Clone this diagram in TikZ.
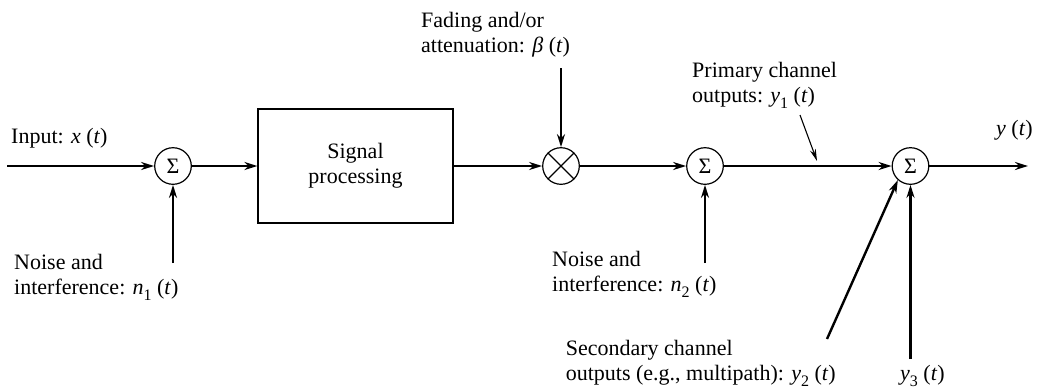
\documentclass[tikz,border=0pt]{standalone}
\usepackage{fontspec}
\setmainfont{Liberation Serif}
\usetikzlibrary{arrows.meta}
% lowered subscript digit for signal names
\newcommand{\lsub}[1]{\raisebox{-0.28em}{\fontsize{16}{16}\selectfont #1}}
\begin{document}
\begin{tikzpicture}[x=1pt,y=-1pt,
  font=\fontsize{22}{25}\selectfont,
  sig/.style={line width=2.4pt,-{Stealth[length=13pt,width=8pt]}},
  thinarrow/.style={line width=1.1pt,-{Stealth[length=12pt,width=6pt]}},
  junction/.style={circle,draw,line width=1.2pt,minimum size=36.6pt,inner sep=0pt},
  sigma/.style={font=\fontsize{22}{22}\selectfont},
  lbl/.style={align=left,inner sep=0pt,anchor=base west}]
\useasboundingbox (0,0) rectangle (1038,389);

% summing junctions, multiplier and processing block
\node[junction,sigma] (s1) at (173,166) {Σ};
\node[draw,line width=1.2pt,minimum width=195pt,minimum height=114pt,align=center] (sp) at (355.5,166) {Signal\\processing};
\node[junction] (m) at (561,166) {};
\draw[line width=1.2pt] (m.north west) -- (m.south east) (m.north east) -- (m.south west);
\node[junction,sigma] (s2) at (705,166) {Σ};
\node[junction,sigma] (s3) at (910.5,166) {Σ};

% free ends of the signal lines
\coordinate (in) at (7,166);
\coordinate (out) at (1028,166);
\coordinate (n1) at (173,263);
\coordinate (fade) at (561,68);
\coordinate (n2) at (705,263);
\coordinate (y2) at (827,339);
\coordinate (y3) at (910.5,359);
\coordinate (p1) at (800,115);
\coordinate (p1tip) at (817,161);

% signal flow
\draw[sig] (in) -- (s1);
\draw[sig] (s1) -- (sp);
\draw[sig] (sp) -- (m);
\draw[sig] (fade) -- (m);
\draw[sig] (m) -- (s2);
\draw[sig] (n1) -- (s1);
\draw[sig] (n2) -- (s2);
\draw[sig] (s2) -- (s3);
\draw[sig] (s3) -- (out);
\draw[sig] (y2) -- (s3.228);
\draw[sig] (y3) -- (s3);
\draw[thinarrow] (p1) -- (p1tip);

% labels (anchored at the baseline of their last line)
\node[lbl] (inlbl) at (11,143) {Input: \textit{x} (\textit{t})};
\node[lbl] (n1lbl) at (14,294) {Noise and\\interference: \textit{n}\lsub{1} (\textit{t})};
\node[lbl] (fadelbl) at (421,52) {Fading and/or\\attenuation: \textit{β} (\textit{t})};
\node[lbl] (n2lbl) at (552,291) {Noise and\\interference: \textit{n}\lsub{2} (\textit{t})};
\node[lbl] (plbl) at (692,102) {Primary channel\\outputs: \textit{y}\lsub{1} (\textit{t})};
\node[lbl] (ylbl) at (996,135) {\textit{y} (\textit{t})};
\node[lbl,anchor=base east] (y2lbl) at (836,380) {Secondary channel\\outputs (e.g., multipath): \textit{y}\lsub{2} (\textit{t})};
\node[lbl] (y3lbl) at (900,380) {\textit{y}\lsub{3} (\textit{t})};
\end{tikzpicture}
\end{document}
